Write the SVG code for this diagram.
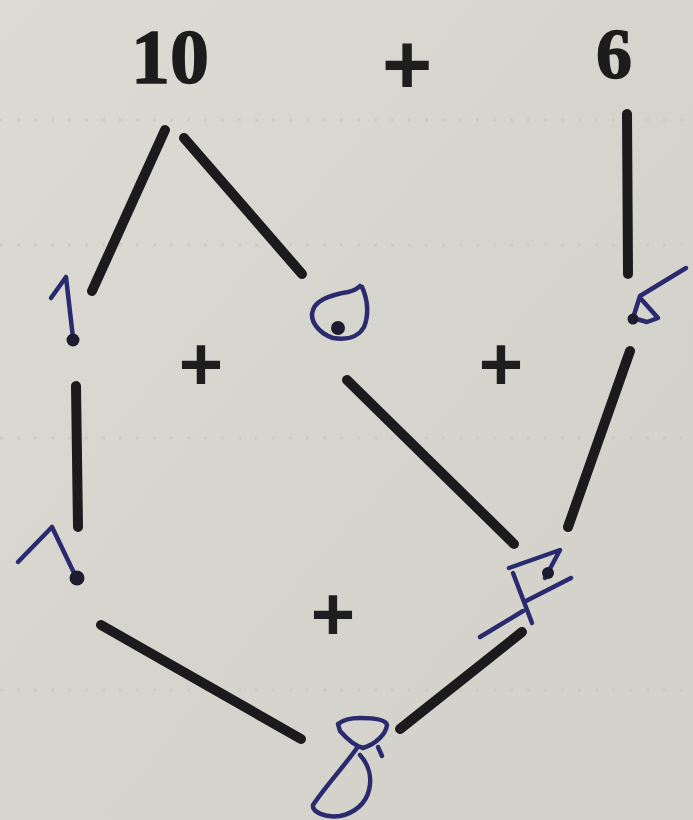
<svg xmlns="http://www.w3.org/2000/svg" width="693" height="820" viewBox="0 0 693 820">
  <defs>
    <style>
      .num { font-family: "Liberation Serif", "DejaVu Serif", serif; font-weight: bold; fill: #1c1c1c; stroke: #1c1c1c; stroke-width: 1.5; }
      .plus { font-family: "Liberation Sans", "DejaVu Sans", sans-serif; font-weight: bold; fill: #1e1e1e; text-anchor: middle; }
      .edge { stroke: #1b1b1d; stroke-width: 10; stroke-linecap: round; fill: none; }
      .ink { stroke: #2a2a6e; stroke-width: 4.5; stroke-linecap: round; stroke-linejoin: round; fill: none; }
      .dot { fill: #1c1c2e; }
    </style>
    <linearGradient id="paper" x1="0" y1="0" x2="1" y2="1">
      <stop offset="0" stop-color="#dcdcd4"/>
      <stop offset="0.5" stop-color="#d6d5cd"/>
      <stop offset="1" stop-color="#d2d1ca"/>
    </linearGradient>
  </defs>
  <rect width="693" height="820" fill="url(#paper)"/>
  <g id="paper-rows" stroke="#c8c8c4" stroke-width="3" stroke-dasharray="3 14" opacity="0.7">
    <line x1="0" y1="120" x2="693" y2="120"/>
    <line x1="0" y1="245" x2="693" y2="245"/>
    <line x1="0" y1="438" x2="693" y2="438"/>
    <line x1="0" y1="690" x2="693" y2="690"/>
  </g>

  <g id="connectors">
    <line class="edge" x1="165" y1="130" x2="92" y2="291"/>
    <line class="edge" x1="184" y1="138" x2="302" y2="274"/>
    <line class="edge" x1="627" y1="114" x2="628" y2="274"/>
    <line class="edge" x1="76" y1="386" x2="78" y2="527"/>
    <line class="edge" x1="347" y1="380" x2="514" y2="544"/>
    <line class="edge" x1="630" y1="351" x2="568" y2="527"/>
    <line class="edge" x1="101" y1="625" x2="301" y2="739"/>
    <line class="edge" x1="522" y1="632" x2="400" y2="729"/>
  </g>

  <g id="top-10"><text class="num" x="170" y="83" font-size="78" text-anchor="middle">10</text></g>
  <g id="top-plus"><text class="plus" x="407" y="94" font-size="86">+</text></g>
  <g id="top-6"><text class="num" x="614" y="78" font-size="72" text-anchor="middle">6</text></g>

  <g id="plus-left"><text class="plus" x="201" y="390" font-size="76">+</text></g>
  <g id="plus-right"><text class="plus" x="501" y="390" font-size="76">+</text></g>
  <g id="plus-bottom"><text class="plus" x="333" y="640" font-size="76">+</text></g>

  <g id="node-a">
    <path class="ink" d="M51,298 L66,277 L73,338"/>
    <circle class="dot" cx="73" cy="340" r="6.5"/>
  </g>
  <g id="node-b">
    <path class="ink" d="M362,287 C368,300 369,315 364,327 C358,338 345,340 333,338 C318,333 309,320 313,310 C316,300 330,295 348,292 C353,291 357,289 360,286"/>
    <circle class="dot" cx="338" cy="328" r="7"/>
  </g>
  <g id="node-c">
    <path class="ink" d="M686,268 L640,296 L633,318 L647,322 L658,318 L642,300"/>
    <circle class="dot" cx="633" cy="319" r="5.5"/>
  </g>
  <g id="node-d">
    <path class="ink" d="M18,562 L52,527 L75,575"/>
    <circle class="dot" cx="77" cy="578" r="7.5"/>
  </g>
  <g id="node-e">
    <path class="ink" d="M509,568 L560,550 L545,578"/>
    <path class="ink" d="M571,578 L526,601"/>
    <path class="ink" d="M513,573 L532,623"/>
    <path class="ink" d="M480,637 L523,611"/>
    <circle class="dot" cx="548" cy="573" r="6"/>
  </g>
  <g id="node-f">
    <path class="ink" d="M338,724 C344,719 352,718 360,718 C372,718 386,719 387,725 C386,734 376,744 363,748 C355,746 348,740 340,731 Z"/>
    <path class="ink" d="M357,748 C345,765 325,787 313,805 C312,812 325,818 340,816 C355,813 366,803 369,790 C372,778 369,765 360,755"/>
    <path class="ink" d="M378,747 L382,756"/>
  </g>
</svg>
